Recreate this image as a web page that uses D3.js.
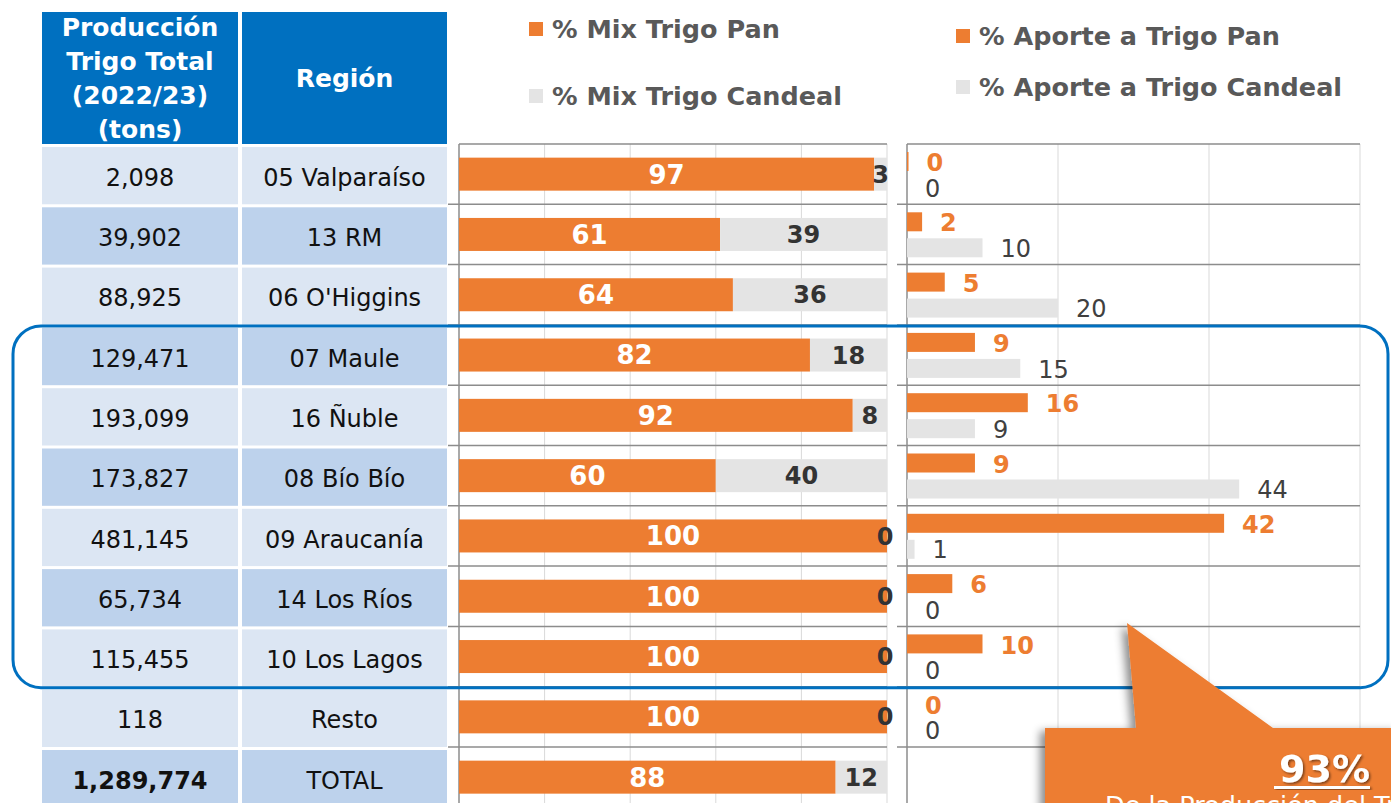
<!DOCTYPE html>
<html>
<head>
<meta charset="utf-8">
<script src="https://cdn.jsdelivr.net/npm/d3@7/dist/d3.min.js"></script>
<style>
  html, body { margin: 0; padding: 0; background: #fff; overflow: hidden; }
  svg { display: block; font-family: "DejaVu Sans", Verdana, sans-serif; }
</style>
</head>
<body>
<div id="chart"></div>
<script>
////////////////////////////////////////////////////////////////////
////////////////////////////  Data  ////////////////////////////////
const regiones = ["05 Valparaíso", "13 RM", "06 O'Higgins", "07 Maule", "16 Ñuble",
  "08 Bío Bío", "09 Araucanía", "14 Los Ríos", "10 Los Lagos", "Resto", "TOTAL"];
const produccion = [2098, 39902, 88925, 129471, 193099, 173827, 481145, 65734, 115455, 118, 1289774];
const mixPan = [97, 61, 64, 82, 92, 60, 100, 100, 100, 100, 88];
const mixCandeal = [3, 39, 36, 18, 8, 40, 0, 0, 0, 0, 12];
// aporte only for the regions (no TOTAL row)
const aportePan = [0.2, 2, 5, 9, 16, 9, 42, 6, 10, 0];
const aporteCandeal = [0, 10, 20, 15, 9, 44, 1, 0, 0, 0];

const headerLabels = [["Producción", "Trigo Total", "(2022/23)", "(tons)"], ["Región"]];
const legendMix = ["% Mix Trigo Pan", "% Mix Trigo Candeal"];
const legendAporte = ["% Aporte a Trigo Pan", "% Aporte a Trigo Candeal"];
const calloutTitle = "93%";
const calloutText = "De la Producción del Trigo Pan";

////////////////////////////////////////////////////////////////////
////////////////////////////  Init  ////////////////////////////////
const width = 1391, height = 803;
const ORANGE = "#ED7D31", GREY = "#E4E4E4", BLUE = "#0070C0";
const ROW_LIGHT = "#DCE6F3", ROW_DARK = "#BDD2EC", TXT = "#404040", LEG = "#595959";

const svg = d3.select("#chart").append("svg")
  .attr("width", width).attr("height", height);

const defs = svg.append("defs");
defs.append("filter").attr("id", "shadow")
  .attr("x", "-20%").attr("y", "-20%").attr("width", "140%").attr("height", "140%")
  .append("feDropShadow")
  .attr("dx", -5).attr("dy", 3).attr("stdDeviation", 4)
  .attr("flood-color", "#000").attr("flood-opacity", 0.45);
defs.append("filter").attr("id", "txtshadow")
  .append("feDropShadow")
  .attr("dx", 1.5).attr("dy", 1.5).attr("stdDeviation", 1)
  .attr("flood-color", "#000").attr("flood-opacity", 0.5);

// scales
const rowStep = 60.3;
const y = d3.scaleBand().domain(regiones)
  .range([144, 144 + regiones.length * rowStep]).padding(0);
const bw = y.bandwidth();
const xMix = d3.scaleLinear().domain([0, 100]).range([459, 887]);
const xAporte = d3.scaleLinear().domain([0, 60]).range([907, 1360]);
const fmtTons = d3.format(",");
const fmtPct = d3.format(".0f");
const bottom = y.range()[1];

////////////////////////////////////////////////////////////////////
////////////////////////////  Table  ///////////////////////////////
const cols = [{ x: 42, w: 196 }, { x: 242, w: 205 }];
const darkRows = [1, 3, 5, 7, 10];

const table = svg.append("g").attr("class", "table");
cols.forEach((c, ci) => {
  table.append("rect")
    .attr("x", c.x).attr("y", 12).attr("width", c.w).attr("height", 132)
    .attr("fill", BLUE);
  const lines = headerLabels[ci];
  const lh = 34;
  const y0 = 78 - (lines.length - 1) * lh / 2;
  table.append("text")
    .attr("x", c.x + c.w / 2).attr("text-anchor", "middle")
    .attr("fill", "#fff").attr("font-weight", "bold").attr("font-size", 25)
    .selectAll("tspan").data(lines).join("tspan")
    .attr("x", c.x + c.w / 2)
    .attr("y", (d, i) => y0 + i * lh + 9)
    .text(d => d);
});

const rows = table.selectAll("g.row").data(regiones).join("g").attr("class", "row");
rows.each(function (d, i) {
  const g = d3.select(this);
  const fill = darkRows.includes(i) ? ROW_DARK : ROW_LIGHT;
  const vals = [fmtTons(produccion[i]), d];
  cols.forEach((c, ci) => {
    g.append("rect")
      .attr("x", c.x).attr("y", y(d) + 3)
      .attr("width", c.w).attr("height", bw - 3)
      .attr("fill", fill);
    g.append("text")
      .attr("x", c.x + c.w / 2).attr("y", y(d) + bw / 2 + 3)
      .attr("dy", "0.36em").attr("text-anchor", "middle")
      .attr("font-size", 24).attr("fill", "#111")
      .attr("font-weight", (ci === 0 && d === "TOTAL") ? "bold" : "normal")
      .text(vals[ci]);
  });
});

////////////////////////////////////////////////////////////////////
////////////////////////////  Mix chart  ///////////////////////////
const mix = svg.append("g").attr("class", "mix");

mix.selectAll("line.grid").data(xMix.ticks(5).filter(t => t > 0)).join("line")
  .attr("x1", d => xMix(d)).attr("x2", d => xMix(d))
  .attr("y1", y.range()[0]).attr("y2", bottom)
  .attr("stroke", "#D9D9D9").attr("stroke-width", 1);

const seps = d3.range(regiones.length + 1).map(i => y.range()[0] + i * bw);
mix.selectAll("line.sep").data(seps).join("line")
  .attr("x1", (d, i) => i === 0 ? xMix(0) : 448).attr("x2", xMix(100))
  .attr("y1", d => d).attr("y2", d => d)
  .attr("stroke", "#8C8C8C").attr("stroke-width", 1.5);

mix.append("line")
  .attr("x1", xMix(0)).attr("x2", xMix(0))
  .attr("y1", y.range()[0]).attr("y2", bottom)
  .attr("stroke", "#8C8C8C").attr("stroke-width", 1.5);

const barH = 33;
const mixRows = mix.selectAll("g.bar").data(regiones).join("g");
mixRows.append("rect")
  .attr("x", xMix(0)).attr("y", d => y(d) + (bw - barH) / 2)
  .attr("width", (d, i) => xMix(mixPan[i]) - xMix(0)).attr("height", barH)
  .attr("fill", ORANGE);
mixRows.append("rect")
  .attr("x", (d, i) => xMix(mixPan[i])).attr("y", d => y(d) + (bw - barH) / 2)
  .attr("width", (d, i) => xMix(mixPan[i] + mixCandeal[i]) - xMix(mixPan[i])).attr("height", barH)
  .attr("fill", GREY);
mixRows.append("text")
  .attr("x", (d, i) => (xMix(0) + xMix(mixPan[i])) / 2)
  .attr("y", d => y(d) + bw / 2).attr("dy", "0.36em")
  .attr("text-anchor", "middle").attr("font-weight", "bold").attr("font-size", 26)
  .attr("fill", "#fff")
  .text((d, i) => fmtPct(mixPan[i]));
mixRows.append("text")
  .attr("x", (d, i) => (xMix(mixPan[i]) + xMix(mixPan[i] + mixCandeal[i])) / 2 - (mixCandeal[i] === 0 ? 2 : 0))
  .attr("y", d => y(d) + bw / 2).attr("dy", "0.36em")
  .attr("text-anchor", "middle").attr("font-weight", "bold").attr("font-size", 24)
  .attr("fill", "#333")
  .text((d, i) => fmtPct(mixCandeal[i]));

////////////////////////////////////////////////////////////////////
////////////////////////////  Aporte chart  ////////////////////////
const ap = svg.append("g").attr("class", "aporte");

ap.selectAll("line.grid").data(xAporte.ticks(3).filter(t => t > 0)).join("line")
  .attr("x1", d => xAporte(d)).attr("x2", d => xAporte(d))
  .attr("y1", y.range()[0]).attr("y2", bottom)
  .attr("stroke", "#D9D9D9").attr("stroke-width", 1);

ap.selectAll("line.sep").data(seps).join("line")
  .attr("x1", (d, i) => i === 0 ? xAporte(0) : 897).attr("x2", xAporte(60))
  .attr("y1", d => d).attr("y2", d => d)
  .attr("stroke", "#8C8C8C").attr("stroke-width", 1.5);

ap.append("line")
  .attr("x1", xAporte(0)).attr("x2", xAporte(0))
  .attr("y1", y.range()[0]).attr("y2", bottom)
  .attr("stroke", "#8C8C8C").attr("stroke-width", 1.5);

const apRegions = regiones.slice(0, aportePan.length);
const apRows = ap.selectAll("g.bar").data(apRegions).join("g");
apRows.append("rect")
  .attr("x", xAporte(0)).attr("y", d => y(d) + 8)
  .attr("width", (d, i) => xAporte(aportePan[i]) - xAporte(0)).attr("height", 19)
  .attr("fill", ORANGE);
apRows.append("rect")
  .attr("x", xAporte(0)).attr("y", d => y(d) + 34)
  .attr("width", (d, i) => xAporte(aporteCandeal[i]) - xAporte(0)).attr("height", 19)
  .attr("fill", GREY);
apRows.append("text")
  .attr("x", (d, i) => xAporte(aportePan[i]) + 18)
  .attr("y", d => y(d) + 18.5).attr("dy", "0.36em")
  .attr("font-weight", "bold").attr("font-size", 24).attr("fill", ORANGE)
  .text((d, i) => fmtPct(aportePan[i]));
apRows.append("text")
  .attr("x", (d, i) => xAporte(aporteCandeal[i]) + 18)
  .attr("y", d => y(d) + 44).attr("dy", "0.36em")
  .attr("font-size", 24).attr("fill", TXT)
  .text((d, i) => fmtPct(aporteCandeal[i]));

////////////////////////////////////////////////////////////////////
////////////////////////////  Legends  /////////////////////////////
function legend(items, x, ys) {
  const g = svg.append("g").attr("class", "legend");
  items.forEach((t, i) => {
    g.append("rect")
      .attr("x", x).attr("y", ys[i] - 7).attr("width", 14).attr("height", 14)
      .attr("fill", i === 0 ? ORANGE : GREY);
    g.append("text")
      .attr("x", x + 23).attr("y", ys[i]).attr("dy", "0.36em")
      .attr("font-weight", "bold").attr("font-size", 25.5).attr("fill", LEG)
      .text(t);
  });
}
legend(legendMix, 529, [29, 96]);
legend(legendAporte, 956, [36, 87]);

////////////////////////////////////////////////////////////////////
////////////////////////////  Annotations  /////////////////////////
const yTop = y(regiones[3]) + 1;
const yBot = y(regiones[8]) + bw + 1;
svg.append("rect")
  .attr("x", 13).attr("y", yTop).attr("width", 1375).attr("height", yBot - yTop)
  .attr("rx", 28).attr("ry", 28)
  .attr("fill", "none").attr("stroke", BLUE).attr("stroke-width", 3);

const callout = svg.append("g").attr("class", "callout");
callout.append("path")
  .attr("d", "M1045,728 L1136,728 L1127,623 L1273,728 L1400,728 L1400,820 L1045,820 Z")
  .attr("fill", ORANGE).attr("filter", "url(#shadow)");
callout.append("text")
  .attr("x", 1370).attr("y", 782).attr("text-anchor", "end")
  .attr("font-weight", "bold").attr("font-size", 38).attr("fill", "#fff")
  .attr("filter", "url(#txtshadow)")
  .text(calloutTitle);
callout.append("rect")
  .attr("x", 1274).attr("y", 786).attr("width", 96).attr("height", 3)
  .attr("fill", "#fff").attr("filter", "url(#txtshadow)");
callout.append("text")
  .attr("x", 1105).attr("y", 814)
  .attr("font-size", 25.5).attr("fill", "#fff")
  .text(calloutText);
</script>
</body>
</html>
